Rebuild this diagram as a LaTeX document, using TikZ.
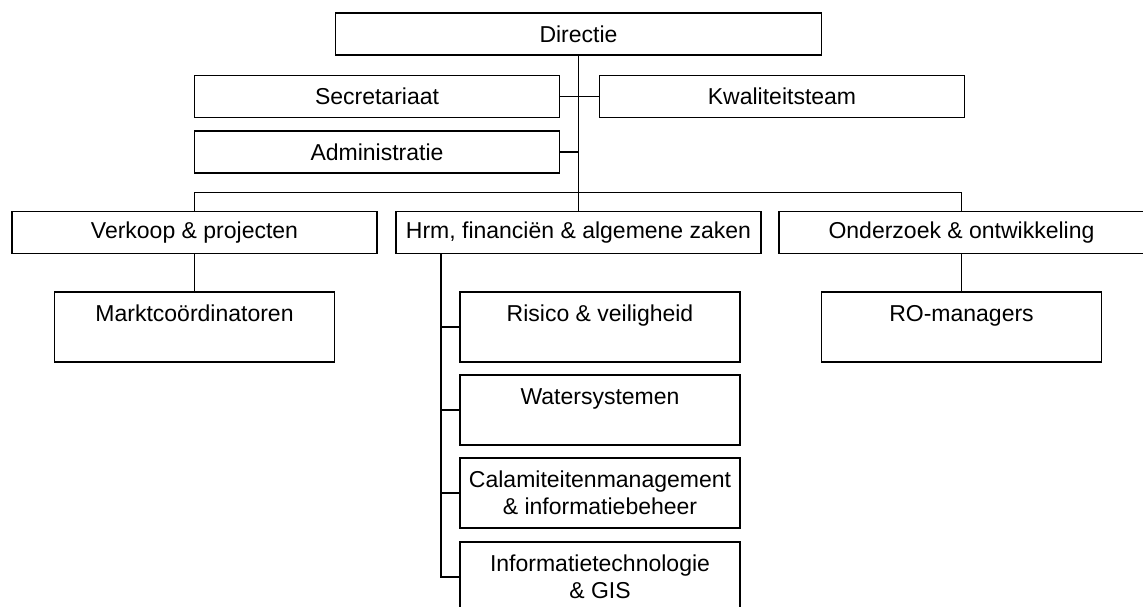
\documentclass[tikz,border=0pt]{standalone}
\usepackage{fontspec}
\setmainfont{Liberation Sans}
\usetikzlibrary{positioning}

\begin{document}
\begin{tikzpicture}[x=0.5pt,y=-0.5pt,line width=0.8pt,
every node/.style={draw,rectangle,inner sep=0pt,align=center,
  font=\fontsize{11.5}{13.5}\selectfont},
wide/.style={minimum width=182.5pt,minimum height=21pt},
tall/.style={minimum width=140pt,minimum height=35pt},
toptext/.style={text height=8.4pt,text depth=13.7pt}]
\useasboundingbox (0,0) rectangle (1143,606);
\clip (0,0) rectangle (1143,606);
% top of the chart
\node[minimum width=243pt,minimum height=21pt] (dir) at (578.5,34) {Directie};
\node[wide] (sec) at (377,96.5) {Secretariaat};
\node[wide] (kwal) at (782,96.5) {Kwaliteitsteam};
\node[wide] (adm) at (377,152) {Administratie};
% departments
\node[wide] (verk) at (194.5,232.5) {Verkoop \& projecten};
\node[wide] (hrm) at (578.5,232.5) {Hrm, financiën \& algemene zaken};
\node[wide] (ond) at (961.5,232.5) {Onderzoek \& ontwikkeling};
\node[tall,toptext] (markt) at (194.5,327) {Marktcoördinatoren};
\node[tall,toptext] (ro) at (961.5,327) {RO-managers};
% sections under hrm
\node[tall,toptext] (ris) at (600,327) {Risico \& veiligheid};
\node[tall,toptext] (water) at (600,410) {Watersystemen};
\node[tall] (calam) at (600,493) {Calamiteitenmanagement\\\& informatiebeheer};
\node[tall] (info) at (600,577) {Informatietechnologie\\\& GIS};
\coordinate (bus) at (578.5,192.5);
\coordinate (spine) at (441,253.5);
\draw (dir.south)--(dir.south |- hrm.north);
\draw (sec.east)--(kwal.west);
\draw (adm.east)--(adm.east -| dir.south);
\draw (verk.north) |- (bus) -| (ond.north);
\draw (verk.south)--(markt.north);
\draw (ond.south)--(ro.north);
\draw (spine) |- (info.west);
\draw (ris.west)--(ris.west -| spine);
\draw (water.west)--(water.west -| spine);
\draw (calam.west)--(calam.west -| spine);
\end{tikzpicture}
\end{document}
